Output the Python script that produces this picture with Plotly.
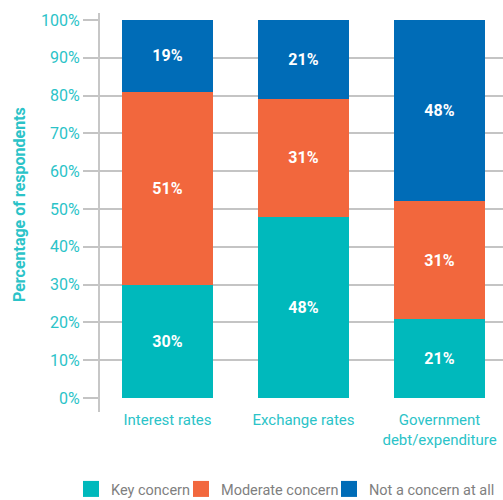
import plotly.graph_objects as go

categories = ["Interest rates", "Exchange rates", "Government<br>debt/expenditure"]
key_concern = [30, 48, 21]
moderate_concern = [51, 31, 31]
not_concern = [19, 21, 48]
series_names = ["Key concern", "Moderate concern", "Not a concern at all"]
colors = ["#00B9BC", "#F2673D", "#006CB7"]
tick_vals = [0, 10, 20, 30, 40, 50, 60, 70, 80, 90, 100]
tick_text = [f"{v}%" for v in tick_vals]

FONT = "Roboto, Arial, sans-serif"
TEAL_TXT = "#2BC3C8"
W, H = 503, 500
L, R, T, B = 99, 0, 20, 102

fig = go.Figure()
for name, vals, col in zip(series_names, [key_concern, moderate_concern, not_concern], colors):
    fig.add_trace(go.Bar(
        x=categories, y=vals, name=name, marker=dict(color=col, line=dict(width=0)),
        text=[f"<b>{v}%</b>" for v in vals], textposition="inside",
        insidetextanchor="middle", textangle=0,
        textfont=dict(color="white", size=16, family=FONT),
        width=0.67, showlegend=False,
    ))

# legend entries (square swatches), one legend per entry for exact placement
legend_names = ["legend", "legend2", "legend3"]
text_starts = [112, 222, 370]
for name, col, lg in zip(series_names, colors, legend_names):
    fig.add_trace(go.Scatter(
        x=[None], y=[None], mode="markers", name=name,
        marker=dict(symbol="square", size=16, color=col),
        showlegend=True, legend=lg,
    ))

legend_common = dict(
    orientation="h", xref="container", yref="container",
    yanchor="middle", y=1 - 489 / H, xanchor="left",
    font=dict(size=14.5, color="#7F7F7F", family=FONT),
    itemwidth=30, bgcolor="rgba(0,0,0,0)", borderwidth=0,
)
legend_layout = {}
for lg, ts in zip(legend_names, text_starts):
    legend_layout[lg] = dict(legend_common, x=(ts - 41) / W)

cat_step = 136.0
first_center = 167.5
x_left = (L - first_center) / cat_step
x_right = (W - R - first_center) / cat_step

fig.update_layout(
    barmode="stack",
    width=W, height=H,
    margin=dict(l=L, r=R, t=T, b=B, autoexpand=False),
    plot_bgcolor="white", paper_bgcolor="white",
    font=dict(family=FONT),
    xaxis=dict(
        range=[x_left, x_right], showgrid=False, showline=False, zeroline=False,
        ticks="", tickfont=dict(size=15, color=TEAL_TXT, family=FONT),
        ticklabelstandoff=11, automargin=False, fixedrange=True,
    ),
    yaxis=dict(
        range=[0, 100], tickvals=tick_vals, ticktext=tick_text,
        showgrid=True, gridcolor="#C4C4C4", gridwidth=1.5,
        ticks="outside", ticklen=15, tickcolor="#C4C4C4", tickwidth=1.5,
        tickfont=dict(size=16, color=TEAL_TXT, family=FONT),
        zeroline=False, showline=False, automargin=False, fixedrange=True,
    ),
    showlegend=True,
    **legend_layout,
)

plot_h = H - T - B
fig.add_shape(type="line", xref="paper", yref="paper", x0=0, x1=0,
              y0=(398 - 412) / plot_h, y1=(398 - 13) / plot_h,
              line=dict(color="#B4B4B4", width=1.5), layer="below")

fig.add_annotation(
    text="<b>Percentage of respondents</b>", textangle=-90,
    xref="paper", yref="paper", x=0, xshift=19 - L, y=(398 - 205) / plot_h,
    xanchor="center", yanchor="middle", showarrow=False,
    font=dict(size=16, color=TEAL_TXT, family=FONT),
)

fig.write_html("out.html", config={"displayModeBar": False},
               post_script="document.body.style.margin='0';document.body.style.overflow='hidden';")
